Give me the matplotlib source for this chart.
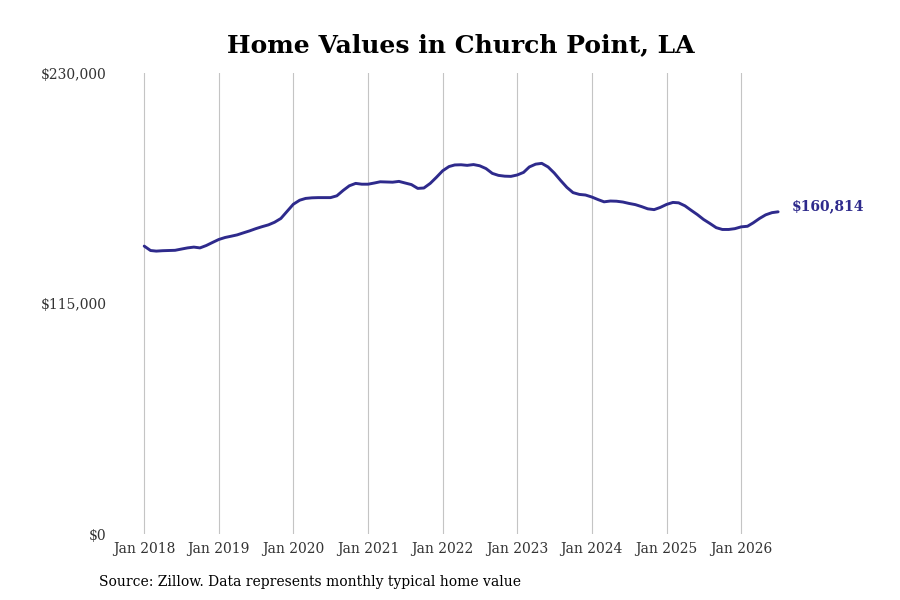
import numpy as np
import pandas as pd
import matplotlib
matplotlib.use('Agg')
import matplotlib.pyplot as plt
from matplotlib.ticker import FuncFormatter

# Valores mensais (milhares de dólares)
v2018 = [143.7, 141.5, 141.2, 141.4, 141.5, 141.6, 142.2, 142.8, 143.2, 142.8, 144.0, 145.5]
v2019 = [147.0, 148.0, 148.6, 149.3, 150.3, 151.3, 152.4, 153.4, 154.3, 155.6, 157.5, 161.0]
v2020 = [164.6, 166.6, 167.5, 167.8, 167.9, 167.9, 167.9, 168.8, 171.5, 173.8, 175.0, 174.6]
v2021 = [174.6, 175.2, 175.8, 175.7, 175.6, 176.0, 175.2, 174.4, 172.5, 172.7, 175.0, 178.0]
v2022 = [181.3, 183.4, 184.2, 184.3, 184.0, 184.4, 183.8, 182.4, 180.0, 179.0, 178.6, 178.5]
v2023 = [179.2, 180.5, 183.2, 184.6, 185.0, 183.2, 180.2, 176.5, 173.0, 170.4, 169.5, 169.2]
v2024 = [168.2, 166.9, 165.8, 166.2, 166.1, 165.7, 165.0, 164.4, 163.4, 162.3, 161.9, 163.0]
v2025 = [164.5, 165.5, 165.3, 163.8, 161.6, 159.4, 157.0, 155.0, 152.9, 152.0, 152.0, 152.4]
v2026 = [153.3, 153.6, 155.3, 157.5, 159.3, 160.4, 160.814]

values = np.array(v2018 + v2019 + v2020 + v2021 + v2022 + v2023 + v2024 + v2025 + v2026) * 1000
dates = pd.date_range('2018-01-01', periods=len(values), freq='MS')

yticks = [0, 115000, 230000]
years = list(range(2018, 2027))
cor = '#2e2a8c'

plt.rcParams['font.family'] = ['DejaVu Serif']

fig = plt.figure(figsize=(9, 6), dpi=100)
ax = fig.add_axes([0.128, 0.11, 0.762, 0.768])

ax.plot(dates, values, color=cor, linewidth=2.1, solid_capstyle='round')

# rótulo do último valor
ax.annotate(f'${values[-1]:,.0f}', xy=(dates[-1], values[-1]), xytext=(10, 4),
            textcoords='offset points', color=cor, fontsize=10, fontweight='bold',
            va='center', ha='left', annotation_clip=False)

ax.set_ylim(0, 230000)
ax.set_yticks(yticks)
ax.yaxis.set_major_formatter(FuncFormatter(lambda v, p: f'${v:,.0f}'))

xt = [pd.Timestamp(f'{y}-01-01') for y in years]
ax.set_xticks(xt)
ax.set_xticklabels([f'Jan {y}' for y in years])
ax.set_xlim(dates[0] - pd.Timedelta(days=142), dates[-1] + pd.Timedelta(days=112))

ax.grid(axis='x', color='#c4c4c4', linewidth=0.8)
ax.grid(axis='y', visible=False)
for s in ax.spines.values():
    s.set_visible(False)
ax.tick_params(axis='both', length=0, labelsize=10, colors='#333333')
ax.tick_params(axis='x', pad=6)
ax.tick_params(axis='y', pad=6)

fig.text(0.512, 0.925, 'Home Values in Church Point, LA', ha='center', va='center',
         fontsize=18, fontweight='bold')
fig.text(0.11, 0.03, 'Source: Zillow. Data represents monthly typical home value',
         ha='left', va='center', fontsize=10)

fig.savefig('out.png', dpi=100)
